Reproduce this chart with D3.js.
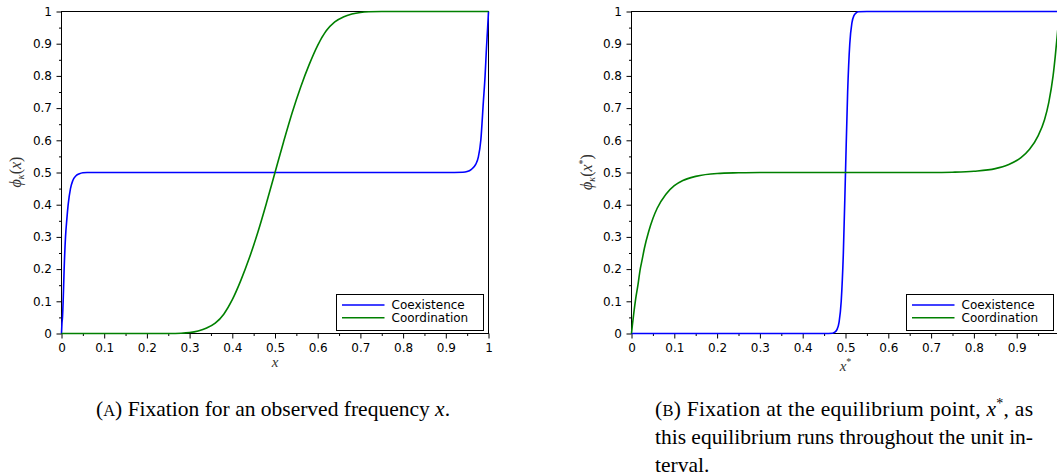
<!DOCTYPE html>
<html>
<head>
<meta charset="utf-8">
<script src="https://cdn.jsdelivr.net/npm/d3@7"></script>
<style>
  body { margin: 0; background: #fff; }
  svg { display: block; }
  .tick text { font-family: "DejaVu Sans", sans-serif; font-size: 12px; fill: #000; }
  .tick line { stroke: #000; }
  .serif { font-family: "Liberation Serif", "Times New Roman", serif; }
</style>
</head>
<body>
<svg id="fig" width="1057" height="476"></svg>
<script>
// ---- axis ticks ----
const majorTicks = [0, 0.1, 0.2, 0.3, 0.4, 0.5, 0.6, 0.7, 0.8, 0.9, 1];
const majorLabels = ["0", "0.1", "0.2", "0.3", "0.4", "0.5", "0.6", "0.7", "0.8", "0.9", "1"];
const minorTicks = [0.05, 0.15, 0.25, 0.35, 0.45, 0.55, 0.65, 0.75, 0.85, 0.95];

const seriesNames = ["Coexistence", "Coordination"];

// ---- panel A: fixation probability vs observed frequency x ----
const coexA_x = [0, 0.001, 0.0023, 0.0039, 0.0062, 0.0094, 0.0125, 0.0156, 0.021, 0.0265, 0.034, 0.042, 0.05, 0.06, 0.08, 0.1, 0.3, 0.5, 0.7, 0.9, 0.94, 0.95, 0.96, 0.97, 0.976, 0.982, 0.988, 0.992, 0.995, 0.998, 1];
const coexA_y = [0, 0.03, 0.05, 0.1, 0.2, 0.3, 0.355, 0.4, 0.45, 0.475, 0.49, 0.496, 0.499, 0.5, 0.5, 0.5, 0.5, 0.5, 0.5, 0.5, 0.501, 0.503, 0.51, 0.525, 0.547, 0.6, 0.72, 0.8, 0.88, 0.95, 1];

const coordA_x = [0, 0.1, 0.2, 0.25, 0.28, 0.3, 0.32, 0.34, 0.36, 0.38, 0.4, 0.42, 0.44, 0.46, 0.48, 0.5, 0.52, 0.54, 0.56, 0.58, 0.6, 0.62, 0.64, 0.66, 0.68, 0.7, 0.72, 0.75, 0.8, 0.9, 1];
const coordA_y = [0, 0, 0, 0.0002, 0.001, 0.003, 0.008, 0.017, 0.032, 0.06, 0.105, 0.165, 0.235, 0.315, 0.405, 0.5, 0.595, 0.685, 0.765, 0.835, 0.895, 0.94, 0.968, 0.983, 0.992, 0.997, 0.999, 0.9998, 1, 1, 1];

// ---- panel B: fixation at the equilibrium point x* ----
const coexB_x = [0, 0.1, 0.2, 0.3, 0.4, 0.45, 0.47, 0.475, 0.48, 0.485, 0.49, 0.495, 0.5, 0.505, 0.51, 0.515, 0.52, 0.525, 0.53, 0.55, 0.6, 0.7, 0.8, 0.9, 1];
const coexB_y = [0, 0, 0, 0, 0, 0, 0.001, 0.004, 0.012, 0.035, 0.1, 0.25, 0.5, 0.75, 0.9, 0.965, 0.988, 0.996, 0.999, 1, 1, 1, 1, 1, 1];

const coordB_x = [0, 0.002, 0.005, 0.01, 0.015, 0.02, 0.025, 0.03, 0.04, 0.05, 0.06, 0.08, 0.1, 0.12, 0.15, 0.2, 0.25, 0.3, 0.4, 0.5, 0.6, 0.7, 0.75, 0.8, 0.85, 0.88, 0.91, 0.93, 0.95, 0.965, 0.975, 0.985, 0.99, 0.995, 1];
const coordB_y = [0, 0.025, 0.059, 0.11, 0.15, 0.197, 0.23, 0.264, 0.316, 0.357, 0.389, 0.432, 0.459, 0.475, 0.488, 0.497, 0.499, 0.5, 0.5, 0.5, 0.5, 0.5, 0.501, 0.504, 0.512, 0.524, 0.546, 0.572, 0.614, 0.664, 0.718, 0.8, 0.86, 0.93, 1];

const colors = ["#0000ff", "#008000"];

const svg = d3.select("#fig");
svg.append("rect").attr("width", 1057).attr("height", 476).attr("fill", "#fff");

function drawPanel(opt) {
  const x = d3.scaleLinear().domain([0, 1]).range([opt.left, opt.right]);
  const y = d3.scaleLinear().domain([0, 1]).range([333.5, 11.5]);
  const g = svg.append("g");

  // minor ticks
  g.append("g").attr("transform", `translate(${opt.left},0)`)
    .call(d3.axisLeft(y).tickValues(minorTicks).tickSize(2.5).tickFormat(""))
    .call(s => s.select(".domain").remove());
  g.append("g").attr("transform", `translate(0,333.5)`)
    .call(d3.axisBottom(x).tickValues(minorTicks).tickSize(2.5).tickFormat(""))
    .call(s => s.select(".domain").remove());

  // major ticks with labels
  g.append("g").attr("transform", `translate(${opt.left},0)`)
    .call(d3.axisLeft(y).tickValues(majorTicks).tickSize(5).tickPadding(4.5)
      .tickFormat((d, i) => majorLabels[i]))
    .call(s => s.select(".domain").remove());
  g.append("g").attr("transform", `translate(0,333.5)`)
    .call(d3.axisBottom(x).tickValues(majorTicks).tickSize(5).tickPadding(5)
      .tickFormat((d, i) => majorLabels[i]))
    .call(s => s.select(".domain").remove());

  // frame
  g.append("rect")
    .attr("x", opt.left).attr("y", 11.5)
    .attr("width", opt.right - opt.left).attr("height", 322)
    .attr("fill", "none").attr("stroke", "#000").attr("stroke-width", 1);

  // curves
  const line = d3.line().x(d => x(d[0])).y(d => y(d[1])).curve(d3.curveMonotoneX);
  opt.series.forEach((s, i) => {
    g.append("path")
      .datum(d3.zip(s.xs, s.ys))
      .attr("d", line)
      .attr("fill", "none")
      .attr("stroke", colors[i])
      .attr("stroke-width", 1.6)
      .attr("stroke-linejoin", "round");
  });

  // legend
  const lg = g.append("g").attr("transform", `translate(${opt.legendX},294.5)`);
  lg.append("rect").attr("width", 147).attr("height", 36)
    .attr("fill", "#fff").attr("stroke", "#000").attr("stroke-width", 1);
  seriesNames.forEach((name, i) => {
    const yy = 10.5 + i * 12.7;
    lg.append("line").attr("x1", 5.5).attr("x2", 48).attr("y1", yy).attr("y2", yy)
      .attr("stroke", colors[i]).attr("stroke-width", 1.6);
    lg.append("text").attr("x", 55).attr("y", yy + 4.3)
      .attr("font-family", "DejaVu Sans, sans-serif").attr("font-size", 12)
      .text(name);
  });

  // y label  ϕ_κ(...)
  const yl = g.append("text").attr("class", "serif")
    .attr("transform", `translate(${opt.yLabelX},172) rotate(-90)`)
    .attr("text-anchor", "middle")
    .attr("font-size", 16)
    .attr("fill", "#333");
  yl.append("tspan").attr("font-style", "italic").text("ϕ");
  yl.append("tspan").attr("font-size", 10).attr("font-style", "italic").attr("dy", 3).text("κ");
  yl.append("tspan").attr("dy", -3).text("(");
  yl.append("tspan").attr("font-style", "italic").text("x");
  if (opt.star) yl.append("tspan").attr("font-size", 10).attr("dy", -6).text("*");
  yl.append("tspan").attr("dy", opt.star ? 6 : 0).text(")");

  // x label
  const xl = g.append("text").attr("class", "serif")
    .attr("x", x(0.5)).attr("y", opt.xLabelY)
    .attr("text-anchor", "middle")
    .attr("font-size", 15)
    .attr("fill", "#333");
  xl.append("tspan").attr("font-style", "italic").text("x");
  if (opt.star) xl.append("tspan").attr("font-size", 10).attr("dy", -6).text("*");
}

drawPanel({
  left: 61.5, right: 488.5, legendX: 336.5, yLabelX: 21, xLabelY: 367, star: false,
  series: [{ xs: coexA_x, ys: coexA_y }, { xs: coordA_x, ys: coordA_y }]
});
drawPanel({
  left: 631.5, right: 1059.5, legendX: 906.5, yLabelX: 592, xLabelY: 371, star: true,
  series: [{ xs: coexB_x, ys: coexB_y }, { xs: coordB_x, ys: coordB_y }]
});

// ---- captions ----
function caption(x, y, letter, parts, width) {
  const t = svg.append("text").attr("class", "serif").attr("x", x).attr("y", y)
    .attr("font-size", 21.5).attr("fill", "#000");
  if (width) t.attr("textLength", width).attr("lengthAdjust", "spacing");
  if (letter) {
    t.append("tspan").text("(");
    t.append("tspan").attr("font-size", 16.5).text(letter);
    t.append("tspan").text(") ");
  }
  parts.forEach(p => {
    const s = t.append("tspan").text(p.t);
    if (p.i) s.attr("font-style", "italic");
    if (p.sup) s.attr("font-size", 14).attr("dy", -8);
    if (p.down) s.attr("dy", 8);
  });
}

caption(96, 416, "A", [{ t: "Fixation for an observed frequency " }, { t: "x", i: true }, { t: "." }]);
caption(655, 416, "B", [{ t: "Fixation at the equilibrium point, " }, { t: "x", i: true }, { t: "*", sup: true }, { t: ", as", down: true }], 378);
caption(655, 444, null, [{ t: "this equilibrium runs throughout the unit in-" }], 378);
caption(655, 471.5, null, [{ t: "terval." }]);
</script>
</body>
</html>
